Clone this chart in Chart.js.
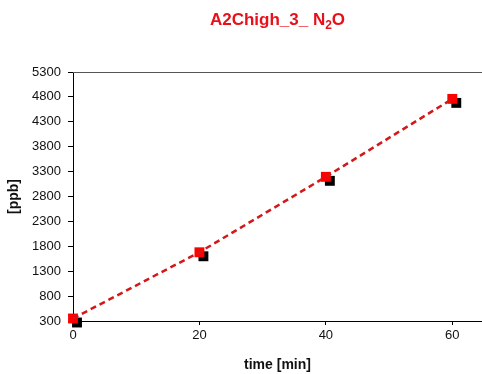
<!DOCTYPE html>
<html><head><meta charset="utf-8">
<script src="https://cdn.jsdelivr.net/npm/chart.js@4.4.1/dist/chart.umd.min.js"></script>
<style>html,body{margin:0;padding:0;background:#fff}#wrap{width:482px;height:374px}</style>
</head><body><div id="wrap"><canvas id="c" width="482" height="374"></canvas></div>
<script>
const timeMin = [0, 20, 40, 60];
const n2oPpb = [350, 1680, 3195, 4760];
const yTicks = [300, 800, 1300, 1800, 2300, 2800, 3300, 3800, 4300, 4800, 5300];
const xTicks = [0, 20, 40, 60];
const titleParts = ["A2Chigh_3_ N", "2", "O"];

const pts = timeMin.map((t, i) => ({x: t, y: n2oPpb[i]}));
const FONT = "'Liberation Sans', Arial, sans-serif";

const deco = {
  id: 'deco',
  beforeDatasetDraw(chart, args) {
    if (args.index === 1) {
      const ctx = chart.ctx; ctx.save();
      ctx.shadowColor = '#000'; ctx.shadowOffsetX = 4; ctx.shadowOffsetY = 4; ctx.shadowBlur = 0;
    }
  },
  afterDatasetDraw(chart, args) {
    if (args.index === 1) chart.ctx.restore();
  },
  afterDraw(chart) {
    const {ctx, chartArea: a} = chart;
    ctx.save();
    ctx.strokeStyle = '#555'; ctx.lineWidth = 1;
    ctx.beginPath(); ctx.moveTo(a.left, a.top + 0.5); ctx.lineTo(a.right, a.top + 0.5); ctx.stroke();
    ctx.fillStyle = '#e8101a';
    ctx.textBaseline = 'alphabetic';
    const big = "bold 17px " + FONT, small = "bold 12px " + FONT;
    ctx.font = big; const w1 = ctx.measureText(titleParts[0]).width; const w3 = ctx.measureText(titleParts[2]).width;
    ctx.font = small; const w2 = ctx.measureText(titleParts[1]).width;
    const total = w1 + w2 + w3;
    let x = (a.left + a.right) / 2 - total / 2;
    const base = 25;
    ctx.textAlign = 'left';
    ctx.font = big; ctx.fillText(titleParts[0], x, base); x += w1;
    ctx.font = small; ctx.fillText(titleParts[1], x, base + 4); x += w2;
    ctx.font = big; ctx.fillText(titleParts[2], x, base);
    ctx.restore();
  }
};

new Chart(document.getElementById('c'), {
  type: 'scatter',
  data: {
    datasets: [
      { data: pts, showLine: true, borderColor: '#d21818', borderWidth: 2.5, borderDash: [6, 4], pointRadius: 0, fill: false, clip: false },
      { data: pts, showLine: false, pointStyle: 'rect', pointRadius: 7, pointBackgroundColor: '#ff0000', pointBorderWidth: 0, pointBorderColor: '#ff0000', clip: false }
    ]
  },
  options: {
    responsive: false, animation: false, devicePixelRatio: 1,
    layout: { autoPadding: false, padding: { top: 72, right: 0, left: 0, bottom: 0 } },
    plugins: { legend: { display: false }, tooltip: { enabled: false } },
    scales: {
      x: {
        type: 'linear', min: 0, max: 64.7,
        afterFit(s) { s.height = 53; s.paddingLeft = 0; s.paddingRight = 0; },
        afterBuildTicks(s) { s.ticks = xTicks.map(v => ({value: v})); },
        ticks: { color: '#111', font: { family: FONT, size: 13 }, padding: 3, maxRotation: 0 },
        grid: { drawOnChartArea: false, drawTicks: true, tickLength: 4, color: '#000' },
        border: { display: true, color: '#000', width: 1 },
        title: { display: true, text: 'time [min]', color: '#111', font: { family: FONT, size: 14, weight: 'bold' }, padding: { top: 0, bottom: 0 } }
      },
      y: {
        type: 'linear', min: 300, max: 5300,
        afterFit(s) { s.width = 73; s.paddingTop = 0; s.paddingBottom = 0; },
        afterBuildTicks(s) { s.ticks = yTicks.map(v => ({value: v})); },
        ticks: { color: '#111', font: { family: FONT, size: 13 }, padding: 7, callback: v => String(v) },
        grid: { drawOnChartArea: false, drawTicks: true, tickLength: 5, color: '#000' },
        border: { display: true, color: '#000', width: 1 },
        title: { display: true, text: '[ppb]', color: '#111', font: { family: FONT, size: 14, weight: 'bold' }, padding: { top: 6, bottom: 0 } }
      }
    }
  },
  plugins: [deco]
});
</script></body></html>
